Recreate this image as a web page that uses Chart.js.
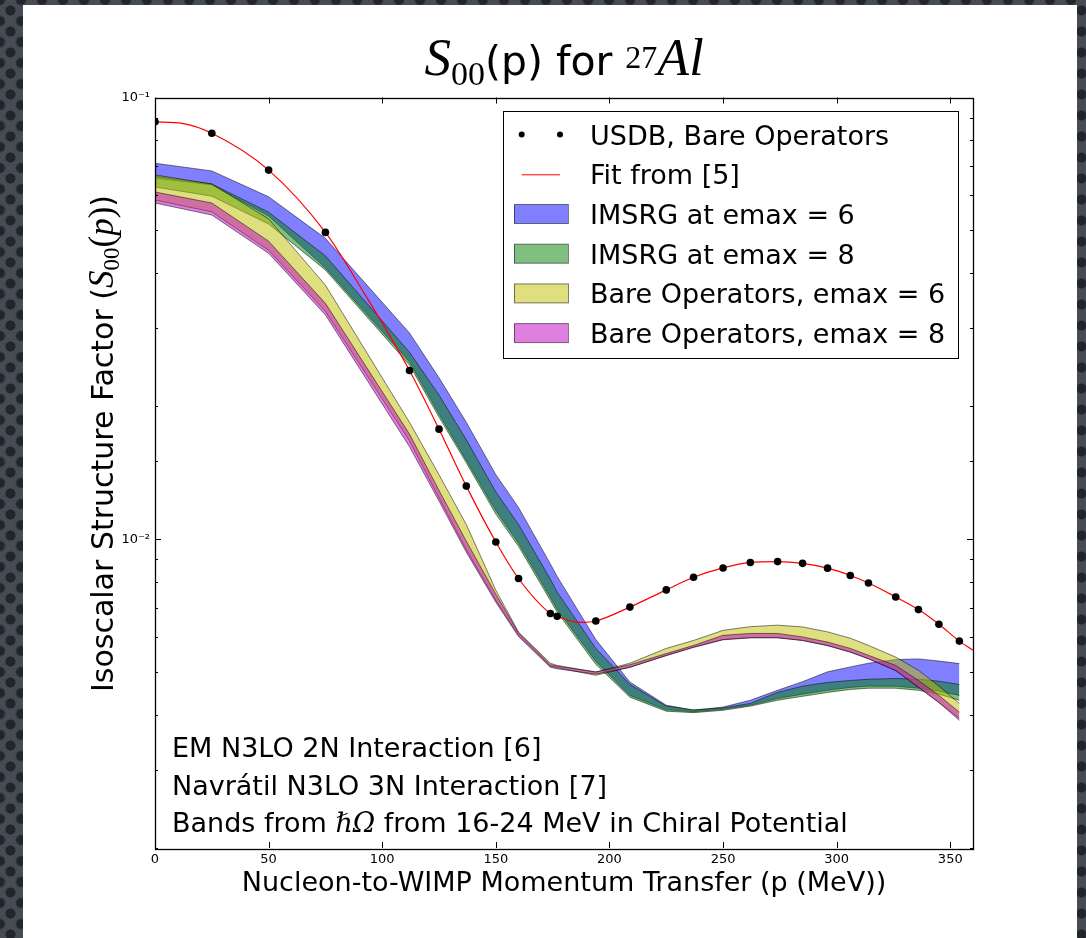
<!DOCTYPE html>
<html><head><meta charset="utf-8">
<script src="https://cdn.jsdelivr.net/npm/chart.js@4.4.1/dist/chart.umd.min.js"></script>
<style>
html,body{margin:0;padding:0;width:1086px;height:938px;overflow:hidden;}
body{background:
 radial-gradient(circle at 50% 50%, #22252a 0, #22252a 4.5px, rgba(0,0,0,0) 5.5px) 0 0/21px 21px,
 radial-gradient(circle at 50% 50%, #22252a 0, #22252a 4.5px, rgba(0,0,0,0) 5.5px) 10.5px 10.5px/21px 21px,
 #474c54;}
#panel{position:absolute;left:23px;top:5px;width:1054px;height:933px;background:#fff;}
#c{position:absolute;left:0;top:0;}
</style></head><body>
<div id="panel"></div>
<canvas id="c" width="1086" height="938"></canvas>
<script>
// ---------- data ----------
const P_GRID = [0,25,50,75,112,125,137,150,160,174,177,194,209,225,237,250,262,274,285,296,306,314,326,336,345,354];
const USDB = [0.0881,0.0830,0.0685,0.0495,0.0241,0.01775,0.01319,0.00986,0.00815,0.00679,0.00669,0.00653,0.00702,0.00768,0.00820,0.00861,0.00886,0.00890,0.00882,0.00860,0.00828,0.00796,0.00740,0.00693,0.00642,0.00588];
const FIT_P = [0,12,25,50,75,93,112,125,137,150,160,174,177,187,194,209,225,237,250,262,274,285,296,306,314,326,336,345,354,360];
const FIT_S = [0.0881,0.0874,0.0830,0.0685,0.0495,0.0354,0.0241,0.01775,0.01319,0.00986,0.00815,0.00679,0.00669,0.00648,0.00653,0.00702,0.00768,0.00820,0.00861,0.00886,0.00890,0.00882,0.00860,0.00828,0.00796,0.00740,0.00693,0.00642,0.00588,0.00561];
const IMSRG6_HI = [0.0710,0.0682,0.0596,0.0480,0.0293,0.0232,0.0184,0.0140,0.0118,0.00879,0.00824,0.00593,0.00475,0.00421,0.00410,0.00417,0.00432,0.00455,0.00476,0.00501,0.00514,0.00524,0.00534,0.00536,0.00530,0.00523];
const IMSRG6_LO = [0.0657,0.0634,0.0539,0.0411,0.0252,0.0192,0.0151,0.0116,0.00979,0.00739,0.00694,0.00529,0.00443,0.00411,0.00407,0.00412,0.00421,0.00436,0.00446,0.00455,0.00462,0.00465,0.00465,0.00460,0.00453,0.00443];
const IMSRG8_HI = [0.0664,0.0637,0.0550,0.0438,0.0265,0.0212,0.0168,0.0128,0.0108,0.00812,0.00759,0.00566,0.00469,0.00419,0.00411,0.00415,0.00425,0.00450,0.00465,0.00474,0.00479,0.00482,0.00484,0.00482,0.00477,0.00469];
const IMSRG8_LO = [0.0627,0.0598,0.0517,0.0407,0.0248,0.0189,0.0149,0.0114,0.00964,0.00727,0.00684,0.00521,0.00439,0.00408,0.00405,0.00410,0.00419,0.00432,0.00441,0.00450,0.00457,0.00460,0.00460,0.00455,0.00446,0.00432];
const BARE6_HI = [0.0668,0.0637,0.0531,0.0376,0.0184,0.0140,0.0108,0.00767,0.00616,0.00524,0.00518,0.00500,0.00524,0.00566,0.00590,0.00622,0.00634,0.00639,0.00633,0.00617,0.00597,0.00575,0.00541,0.00505,0.00465,0.00425];
const BARE6_LO = [0.0586,0.0551,0.0451,0.0328,0.0167,0.0124,0.00947,0.00727,0.00606,0.00516,0.00512,0.00492,0.00513,0.00546,0.00570,0.00593,0.00599,0.00599,0.00590,0.00575,0.00556,0.00537,0.00505,0.00463,0.00427,0.00393];
const BARE8_HI = [0.0611,0.0577,0.0473,0.0342,0.0173,0.0129,0.00990,0.00751,0.00614,0.00520,0.00516,0.00501,0.00520,0.00551,0.00575,0.00606,0.00612,0.00612,0.00601,0.00585,0.00566,0.00546,0.00518,0.00479,0.00443,0.00406];
const BARE8_LO = [0.0577,0.0542,0.0444,0.0322,0.0162,0.0122,0.00935,0.00720,0.00602,0.00513,0.00509,0.00495,0.00513,0.00545,0.00569,0.00592,0.00598,0.00598,0.00590,0.00574,0.00555,0.00536,0.00504,0.00462,0.00427,0.00389];

const SERIES_LABELS = ['USDB, Bare Operators','Fit from [5]','IMSRG at emax = 6','IMSRG at emax = 8','Bare Operators, emax = 6','Bare Operators, emax = 8'];
const X_TICKS = [0,50,100,150,200,250,300,350];
const X_RANGE = [0,360];
const Y_RANGE = [0.002,0.1];
const X_TITLE = 'Nucleon-to-WIMP Momentum Transfer (p (MeV))';
const Y_TITLE = 'Isoscalar Structure Factor (';
const NOTES = ['EM N3LO 2N Interaction [6]','Navrátil N3LO 3N Interaction [7]'];
const NOTE3 = ['Bands from ','ℏΩ',' from 16-24 MeV in Chiral Potential'];

// ---------- styles ----------
const SANS = '"DejaVu Sans", sans-serif';
const SERIF = '"Liberation Serif", "DejaVu Serif", serif';
const EDGE = 'rgba(0,0,0,0.5)';
const BAND_COLORS = ['rgba(0,0,255,0.5)','rgba(0,128,0,0.5)','rgba(191,191,0,0.5)','rgba(191,0,191,0.5)'];

const pts = (xs, ys) => xs.map((x, i) => ({x, y: ys[i]}));
function band(lo, hi, color, order, label) {
  return [
    {label: label + ' (lower)', data: pts(P_GRID, lo), borderColor: EDGE, borderWidth: 1, pointRadius: 0, fill: false, order, tension: 0},
    {label, data: pts(P_GRID, hi), borderColor: EDGE, borderWidth: 1, pointRadius: 0, fill: '-1', backgroundColor: color, order, tension: 0}
  ];
}
const isMajor = v => Math.abs(Math.log10(v) - Math.round(Math.log10(v))) < 1e-6;
const SUP = {'-':'⁻','0':'⁰','1':'¹','2':'²','3':'³','4':'⁴','5':'⁵','6':'⁶','7':'⁷','8':'⁸','9':'⁹'};

function drawParts(ctx, parts, x, y, align) {
  let w = 0;
  parts.forEach(p => { ctx.font = p.f; p.w = ctx.measureText(p.t).width; w += p.w; });
  let cx = align === 'center' ? x - w / 2 : x;
  parts.forEach(p => { ctx.font = p.f; ctx.fillText(p.t, cx, y + (p.dy || 0)); cx += p.w; });
}

const deco = {
  id: 'deco',
  afterDraw(chart) {
    const {ctx, chartArea: a, scales: {x, y}} = chart;
    ctx.save();
    ctx.strokeStyle = '#000'; ctx.fillStyle = '#000'; ctx.lineWidth = 1;
    // inward ticks
    ctx.beginPath();
    x.ticks.forEach(t => {
      if (!X_TICKS.includes(t.value)) return;
      const px = Math.round(x.getPixelForValue(t.value)) + 0.5;
      ctx.moveTo(px, a.bottom); ctx.lineTo(px, a.bottom - 6);
      ctx.moveTo(px, a.top); ctx.lineTo(px, a.top + 6);
    });
    y.ticks.forEach(t => {
      const py = Math.round(y.getPixelForValue(t.value)) + 0.5;
      const L = isMajor(t.value) ? 6 : 3;
      ctx.moveTo(a.left, py); ctx.lineTo(a.left + L, py);
      ctx.moveTo(a.right, py); ctx.lineTo(a.right - L, py);
    });
    ctx.stroke();
    // frame
    ctx.lineWidth = 1.3;
    ctx.strokeRect(Math.round(a.left) + 0.5, Math.round(a.top) + 0.5, Math.round(a.right - a.left), Math.round(a.bottom - a.top));

    // legend
    const lx = 503.5, ly = 111.5, lw = 455, lh = 247;
    ctx.fillStyle = '#fff'; ctx.fillRect(lx, ly, lw, lh);
    ctx.lineWidth = 1; ctx.strokeStyle = '#000'; ctx.strokeRect(lx, ly, lw, lh);
    ctx.textBaseline = 'alphabetic'; ctx.textAlign = 'left';
    SERIES_LABELS.forEach((lab, i) => {
      const cy = 134.6 + i * 39.7;
      if (i === 0) {
        ctx.fillStyle = '#000';
        [521.7, 560].forEach(dx => { ctx.beginPath(); ctx.arc(dx, cy, 3, 0, Math.PI * 2); ctx.fill(); });
      } else if (i === 1) {
        ctx.strokeStyle = '#ff0000'; ctx.lineWidth = 1;
        ctx.beginPath(); ctx.moveTo(521.7, cy + 0.5); ctx.lineTo(560, cy + 0.5); ctx.stroke();
      } else {
        ctx.fillStyle = BAND_COLORS[i - 2];
        ctx.fillRect(514, cy - 9.5, 54, 19);
        ctx.strokeStyle = EDGE; ctx.lineWidth = 1;
        ctx.strokeRect(514.5, cy - 9.5, 54, 19);
      }
      ctx.fillStyle = '#000';
      ctx.font = '27px ' + SANS;
      ctx.fillText(lab, 590, cy + 10);
    });

    // notes
    ctx.fillStyle = '#000';
    ctx.font = '27px ' + SANS;
    ctx.fillText(NOTES[0], 172, 757);
    ctx.fillText(NOTES[1], 172, 795);
    drawParts(ctx, [
      {t: NOTE3[0], f: '27px ' + SANS},
      {t: NOTE3[1], f: 'italic 27px "DejaVu Serif", serif'},
      {t: NOTE3[2], f: '27px ' + SANS}
    ], 172, 832, 'left');

    // title
    drawParts(ctx, [
      {t: 'S', f: 'italic 53px ' + SERIF},
      {t: '00', f: '34px ' + SERIF, dy: 10},
      {t: '(p) for ', f: '41px ' + SANS},
      {t: '27', f: '32px ' + SERIF, dy: -7},
      {t: 'Al', f: 'italic 52px ' + SERIF}
    ], (a.left + a.right) / 2, 75, 'center');

    // y title (rotated)
    ctx.translate(113, 443.5);
    ctx.rotate(-Math.PI / 2);
    drawParts(ctx, [
      {t: Y_TITLE, f: '30px ' + SANS},
      {t: 'S', f: 'italic 35px ' + SERIF},
      {t: '00', f: '23px ' + SERIF, dy: 6},
      {t: '(', f: '35px ' + SERIF},
      {t: 'p', f: 'italic 35px ' + SERIF},
      {t: ')', f: '35px ' + SERIF},
      {t: ')', f: '30px ' + SANS}
    ], 0, 0, 'center');
    ctx.restore();
  }
};

Chart.defaults.font.family = SANS;
const datasets = [
  ...band(IMSRG6_LO, IMSRG6_HI, BAND_COLORS[0], 40, SERIES_LABELS[2]),
  ...band(IMSRG8_LO, IMSRG8_HI, BAND_COLORS[1], 30, SERIES_LABELS[3]),
  ...band(BARE6_LO, BARE6_HI, BAND_COLORS[2], 20, SERIES_LABELS[4]),
  ...band(BARE8_LO, BARE8_HI, BAND_COLORS[3], 10, SERIES_LABELS[5]),
  {label: SERIES_LABELS[1], data: pts(FIT_P, FIT_S), borderColor: '#ff0000', borderWidth: 1.2, pointRadius: 0, fill: false, cubicInterpolationMode: 'monotone', order: 2},
  {label: SERIES_LABELS[0], data: pts(P_GRID, USDB), showLine: false, pointRadius: 3.8, pointBackgroundColor: '#000', pointBorderWidth: 0, order: 1}
];

new Chart(document.getElementById('c'), {
  type: 'line',
  data: {datasets},
  options: {
    responsive: false, animation: false, devicePixelRatio: 1,
    layout: {padding: {left: 95, right: 113, top: 97.5, bottom: 0}},
    plugins: {legend: {display: false}, tooltip: {enabled: false}, title: {display: false}},
    events: [],
    scales: {
      x: {
        type: 'linear', min: X_RANGE[0], max: X_RANGE[1],
        afterFit: s => { s.height = 90; },
        grid: {display: false, drawTicks: false}, border: {display: false},
        ticks: {stepSize: 50, includeBounds: false, autoSkip: false, maxRotation: 0, padding: 4, font: {size: 13}, color: '#000',
          callback: v => X_TICKS.includes(v) ? String(v) : ''},
        title: {display: true, text: X_TITLE, font: {size: 27}, color: '#000', padding: {top: 0, bottom: 38}}
      },
      y: {
        type: 'logarithmic', min: Y_RANGE[0], max: Y_RANGE[1],
        afterFit: s => { s.width = 60; },
        grid: {display: false, drawTicks: false}, border: {display: false},
        ticks: {autoSkip: false, padding: 5, font: {size: 13}, color: '#000',
          callback: v => isMajor(v) ? '10' + String(Math.round(Math.log10(v))).split('').map(c => SUP[c]).join('') : ''}
      }
    }
  },
  plugins: [deco]
});
</script>
</body></html>
